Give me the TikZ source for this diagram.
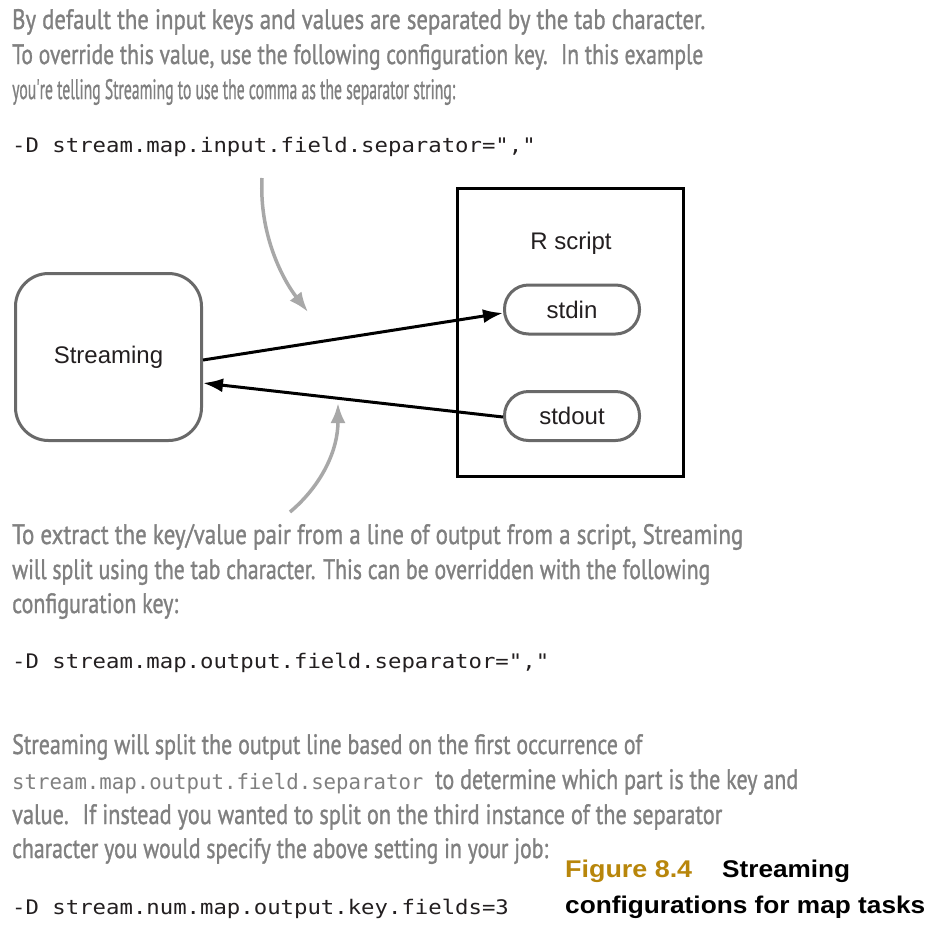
\documentclass[tikz,border=0pt]{standalone}
\usepackage{fontspec}
\usepackage{graphicx}
\setmainfont{Liberation Sans}
\newfontfamily\hwfont{PT Sans}[FakeBold=1.2]
\newfontfamily\codefont{DejaVu Sans Mono}
\usetikzlibrary{arrows.meta}
\definecolor{hwgray}{RGB}{128,128,128}
\definecolor{boxgray}{RGB}{105,105,105}
\definecolor{arrgray}{RGB}{168,168,168}
\definecolor{codeblack}{RGB}{35,31,32}
\definecolor{figgold}{RGB}{184,134,11}
\newcommand{\myfit}[3]{\resizebox{#1pt}{#2pt}{#3\vphantom{Bdfl}}}
\tikzset{
  hw/.style={text=hwgray, font=\hwfont, anchor=base west, inner sep=0pt},
  code/.style={text=codeblack, font=\codefont\fontsize{22.3}{26}\selectfont, anchor=base west, inner sep=0pt},
  inlinecode/.style={text=hwgray, font=\codefont\fontsize{20.7}{24}\selectfont, anchor=base west, inner sep=0pt},
  captext/.style={font=\bfseries, anchor=base west, inner sep=0pt},
  boxtext/.style={font=\fontsize{24}{28}\selectfont, text=codeblack},
  sbox/.style={draw=boxgray, line width=3pt, rounded corners=33pt, minimum width=186pt, minimum height=167pt, boxtext},
  rbox/.style={draw=black, line width=3pt, minimum width=226pt, minimum height=288pt},
  pill/.style={draw=boxgray, line width=3pt, rounded corners=24pt, minimum width=135pt, minimum height=49pt, boxtext},
  barrow/.style={draw=black, line width=3pt, -{Latex[length=20pt,width=14pt]}},
  garrow/.style={draw=arrgray, line width=3.5pt, -{Latex[length=20pt,width=15pt]}},
}
\begin{document}
\begin{tikzpicture}[x=1pt,y=-1pt]
\fill[white] (0,0) rectangle (933,929);
\useasboundingbox (0,0) rectangle (933,929);

% top annotation
\node[hw] (t1) at (12,29) {\myfit{693}{20}{By default the input keys and values are separated by the tab character.}};
\node[hw] (t2) at (12,64) {\myfit{691}{20}{To override this value, use the following configuration key.~ In this example}};
\node[hw] (t3) at (12,99) {\myfit{443}{20}{you\smash{'}re telling Streaming to use the comma as the separator string:}};
\node[code] (c1) at (12,152) {\scalebox{1}[0.9]{-D stream.map.input.field.separator=","}};

% diagram
\node[rbox] (rs) at (570.5,332.5) {};
\node[boxtext] (rl) at (571,243) {R script};
\node[sbox] (stream) at (108.5,357) {Streaming};
\node[pill] (stdin) at (572,309.5) {stdin};
\node[pill] (stdout) at (572,416) {stdout};

\draw[barrow] ([yshift=-3pt]stream.east) -- ([yshift=-3.5pt]stdin.west);
\draw[barrow] ([yshift=-1pt]stdout.west) -- ([yshift=-26pt]stream.east);

\coordinate (g1s) at (262,178);
\coordinate (g1e) at (308,312);
\draw[garrow] (g1s) .. controls (259,235) and (283,280) .. (g1e);
\coordinate (g2s) at (290,512);
\coordinate (g2e) at (338,403);
\draw[garrow] (g2s) .. controls (322,485) and (338,450) .. (g2e);

% middle annotation
\node[hw] (m1) at (12,544) {\myfit{731}{20}{To extract the key/value pair from a line of output from a script, Streaming}};
\node[hw] (m2) at (12,579) {\myfit{698}{20}{will split using the tab character. This can be overridden with the following}};
\node[hw] (m3) at (12,613) {\myfit{166}{20}{configuration key:}};
\node[code] (c2) at (12,668) {\scalebox{1}[0.9]{-D stream.map.output.field.separator=","}};

% bottom annotation
\node[hw] (b1) at (12,754) {\myfit{630}{20}{Streaming will split the output line based on the first occurrence of}};
\node[inlinecode] (b2m) at (12,789) {\scalebox{1}[1.02]{stream.map.output.field.separator}};
\node[hw] (b2) at (435,789) {\myfit{363}{20}{to determine which part is the key and}};
\node[hw] (b3) at (12,824) {\myfit{710}{20}{value.~ If instead you wanted to split on the third instance of the separator}};
\node[hw] (b4) at (12,858) {\myfit{536}{20}{character you would specify the above setting in your job:}};
\node[code] (c3) at (12,914) {\scalebox{1}[0.9]{-D stream.num.map.output.key.fields=3}};

% caption
\node[captext, text=figgold] (f1) at (565,877) {\myfit{127}{17.5}{Figure 8.4}};
\node[captext, text=black] (f2) at (722,877) {\myfit{128}{17.5}{Streaming}};
\node[captext, text=black] (f3) at (565,913) {\myfit{360}{17.5}{configurations for map tasks}};
\end{tikzpicture}
\end{document}
